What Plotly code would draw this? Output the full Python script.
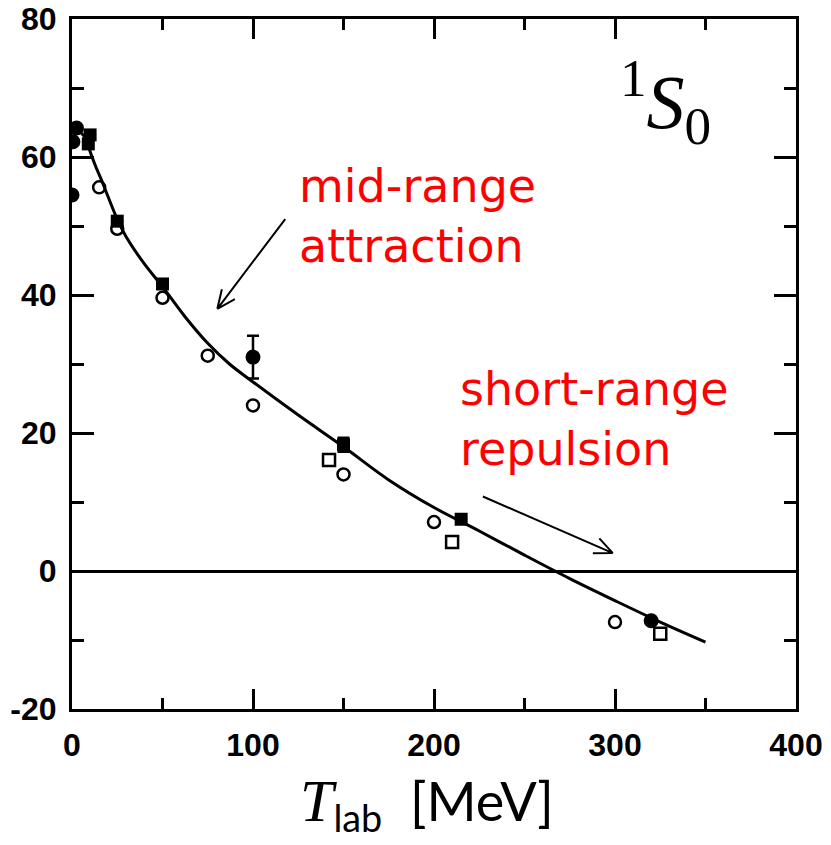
import math
import plotly.graph_objects as go

# 1S0 neutron-proton phase shift (degrees) versus lab energy (MeV)

# Partial-wave analysis curve
curve_T = [1, 3, 5, 8, 10, 13, 17, 20, 25, 30, 40, 50, 62, 75, 87, 100, 125, 150, 175, 200,
           225, 250, 275, 300, 325, 350]
curve_delta = [62.5, 63.8, 63.5, 62.5, 60.8, 58.7, 56.2, 54.2, 51.0, 48.4, 44.5, 41.2, 37.0,
               33.0, 30.0, 27.4, 22.6, 18.0, 13.2, 9.2, 5.8, 2.3, -1.1, -4.3, -7.4, -10.3]

# Filled circles
fc_T = [0.0, 0.5, 2.5, 100, 320]
fc_delta = [54.5, 62.2, 64.2, 31.0, -7.2]
fc_err = [0, 0, 0, 3.1, 0]

# Filled squares
fs_T = [9, 10, 25, 50, 150, 215]
fs_delta = [61.9, 63.2, 50.7, 41.6, 18.3, 7.5]
fs_err = [0, 0, 0, 0, 1.0, 0]

# Open circles
oc_T = [15, 25, 50, 75, 100, 150, 200, 300]
oc_delta = [55.6, 49.6, 39.6, 31.2, 24.0, 14.0, 7.1, -7.4]

# Open squares
os_T = [142, 210, 325]
os_delta = [16.1, 4.2, -9.1]

x_ticks = [0, 100, 200, 300, 400]
y_ticks = [-20, 0, 20, 40, 60, 80]
y_tick_text = ["-20", "0", "20", "40", "60", "80"]

W, H = 831, 845
L, R, T, B = 72, 35, 19, 136
PW, PH = W - L - R, H - T - B
XR, YR = (0, 400), (-20, 80)

fig = go.Figure()

fig.add_trace(go.Scatter(x=curve_T, y=curve_delta, mode="lines",
                         line=dict(color="black", width=3, shape="spline", smoothing=1.0),
                         hoverinfo="skip"))

fig.add_trace(go.Scatter(x=oc_T, y=oc_delta, mode="markers",
                         marker=dict(symbol="circle-open", size=12, color="black",
                                     line=dict(width=2.5, color="black"))))
fig.add_trace(go.Scatter(x=os_T, y=os_delta, mode="markers",
                         marker=dict(symbol="square-open", size=12, color="black",
                                     line=dict(width=2.5, color="black"))))
fig.add_trace(go.Scatter(x=fs_T, y=fs_delta, mode="markers",
                         error_y=dict(type="data", array=fs_err, color="black", thickness=2.5, width=6),
                         marker=dict(symbol="square", size=13, color="black")))
fig.add_trace(go.Scatter(x=fc_T, y=fc_delta, mode="markers",
                         error_y=dict(type="data", array=fc_err, color="black", thickness=2.5, width=6),
                         marker=dict(symbol="circle", size=15, color="black")))


def to_px(x, y):
    return (L + (x - XR[0]) / (XR[1] - XR[0]) * PW,
            T + (YR[1] - y) / (YR[1] - YR[0]) * PH)


def to_data(px, py):
    return (XR[0] + (px - L) / PW * (XR[1] - XR[0]),
            YR[1] - (py - T) / PH * (YR[1] - YR[0]))


def arrow(x0, y0, x1, y1, head=20, spread=24):
    """Line with an open V head, pointing from (x0, y0) to (x1, y1)."""
    ax, ay = to_px(x0, y0)
    bx, by = to_px(x1, y1)
    ang = math.atan2(ay - by, ax - bx)
    path = f"M{x0},{y0} L{x1},{y1}"
    for s in (-1, 1):
        a = ang + s * math.radians(spread)
        wx, wy = to_data(bx + head * math.cos(a), by + head * math.sin(a))
        path += f" M{x1},{y1} L{wx},{wy}"
    fig.add_shape(type="path", path=path, xref="x", yref="y",
                  line=dict(color="black", width=2))


arrow(117.8, 51.0, 80.3, 38.0)
arrow(227.0, 10.8, 298.8, 2.6)

red = dict(family="DejaVu Sans", size=46, color="#ff0000")
fig.add_annotation(text="mid-range<br>attraction", showarrow=False, align="left",
                   yanchor="middle", font=red, xref="paper", yref="paper")
fig.add_annotation(text="short-range<br>repulsion", showarrow=False, align="left",
                   yanchor="middle", font=red, xref="paper", yref="paper")

# Spectroscopic label
fig.add_annotation(text="<sup>1</sup><i>S</i><sub>0</sub>",
                   showarrow=False, xref="paper", yref="paper", yanchor="middle",
                   font=dict(family="Liberation Serif", size=76, color="black"))

# Energy axis title
fig.add_annotation(text='<span style="font-family:Liberation Serif;font-size:60px"><i>T</i></span>'
                        '<sub>lab</sub>  [MeV]',
                   showarrow=False, xref="paper", yref="paper", yanchor="middle",
                   font=dict(family="Lato", size=54, color="black"))

# place annotations given in pixel coordinates
pix = [(297, 216, "left"), (458, 419, "left"), (665, 103, "center"), (427, 804, "center")]
for ann, (px, py, xa) in zip(fig.layout.annotations, pix):
    ann.x = (px - L) / PW
    ann.y = 1 - (py - T) / PH
    ann.xanchor = xa

tickfont = dict(family="Liberation Sans", size=32, color="black", weight="bold")
fig.update_xaxes(range=list(XR), tickvals=x_ticks, ticks="inside", ticklen=20, tickwidth=2.5,
                 tickcolor="black", showline=True, linewidth=3, linecolor="black",
                 mirror="allticks", showgrid=False, zeroline=False, tickfont=tickfont,
                 ticklabelstandoff=6, automargin=False,
                 minor=dict(ticks="inside", ticklen=11, tickwidth=2.5, tickcolor="black", dtick=50))
fig.update_yaxes(range=list(YR), tickvals=y_ticks, ticktext=y_tick_text, ticks="inside",
                 ticklen=22, tickwidth=2.5, tickcolor="black", showline=True, linewidth=3,
                 linecolor="black", mirror="allticks", showgrid=False, zeroline=True,
                 zerolinewidth=3, zerolinecolor="black", tickfont=tickfont,
                 ticklabelstandoff=6, automargin=False,
                 minor=dict(ticks="inside", ticklen=12, tickwidth=2.5, tickcolor="black", dtick=10))

fig.update_layout(width=W, height=H, margin=dict(l=L, r=R, t=T, b=B),
                  paper_bgcolor="white", plot_bgcolor="white", showlegend=False)

fig.write_html("out.html")
